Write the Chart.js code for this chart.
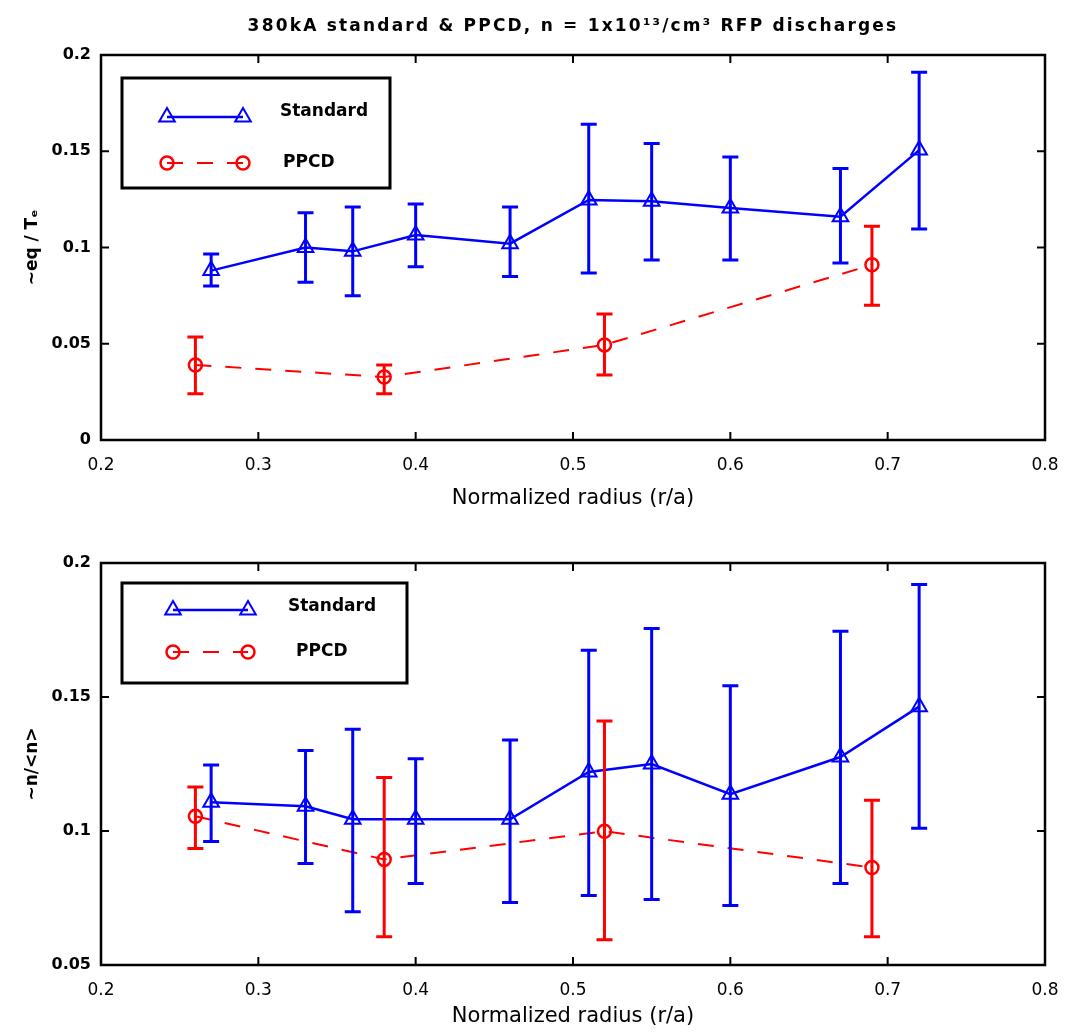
<!DOCTYPE html>
<html><head><meta charset="utf-8">
<script src="https://cdn.jsdelivr.net/npm/chart.js@4/dist/chart.umd.min.js"></script>
<style>
html,body{margin:0;padding:0;background:#fff;width:1066px;height:1033px;overflow:hidden}
.box{position:absolute;left:0;width:1066px}
</style></head><body>
<div class="box" style="top:0;height:515px"><canvas id="c1"></canvas></div>
<div class="box" style="top:515px;height:518px"><canvas id="c2"></canvas></div>
<script>
// ---------- data ----------
const stdX  = [0.27, 0.33, 0.36, 0.40, 0.46, 0.51, 0.55, 0.60, 0.67, 0.72];
const ppcdX = [0.26, 0.38, 0.52, 0.69];

const topStdY  = [0.088, 0.100, 0.098, 0.1065, 0.102, 0.1247, 0.124, 0.1205, 0.116, 0.1506];
const topStdLo = [0.080, 0.082, 0.075, 0.090, 0.085, 0.0867, 0.0935, 0.0935, 0.092, 0.1096];
const topStdHi = [0.0966, 0.118, 0.121, 0.1226, 0.121, 0.164, 0.154, 0.147, 0.141, 0.191];
const topPpcdY  = [0.039, 0.0327, 0.0494, 0.091];
const topPpcdLo = [0.024, 0.024, 0.0338, 0.070];
const topPpcdHi = [0.0535, 0.039, 0.0654, 0.111];

const botStdY  = [0.1107, 0.1092, 0.1044, 0.1044, 0.1044, 0.122, 0.125, 0.1137, 0.1276, 0.1464];
const botStdLo = [0.0961, 0.0879, 0.0699, 0.0804, 0.0733, 0.0759, 0.0744, 0.0722, 0.0804, 0.101];
const botStdHi = [0.1246, 0.130, 0.138, 0.127, 0.134, 0.1674, 0.1756, 0.1542, 0.1745, 0.192];
const botPpcdY  = [0.1055, 0.0894, 0.0999, 0.0864];
const botPpcdLo = [0.0935, 0.0605, 0.0594, 0.0605];
const botPpcdHi = [0.1164, 0.120, 0.141, 0.1115];

const xTickLabels = ['0.2','0.3','0.4','0.5','0.6','0.7','0.8'];
const topYTickLabels = ['0','0.05','0.1','0.15','0.2'];
const botYTickLabels = ['0.05','0.1','0.15','0.2'];
const seriesNames = ['Standard','PPCD'];
const chartTitle = '380kA standard & PPCD, n = 1x10\u00B9\u00B3/cm\u00B3 RFP discharges';
const xTitle = 'Normalized radius (r/a)';
const topYTitle = '~eq / T\u2091';
const botYTitle = '~n/<n>';

const BLUE = '#0000ff', RED = '#ff0000';
const FONT = 'DejaVu Sans';

// ---------- plugins ----------
const errorBars = {
  id: 'errorBars',
  afterDatasetsDraw(chart) {
    const ctx = chart.ctx, ys = chart.scales.y;
    chart.data.datasets.forEach((ds, di) => {
      const meta = chart.getDatasetMeta(di);
      ctx.save();
      ctx.strokeStyle = ds.borderColor; ctx.lineWidth = 3; ctx.setLineDash([]);
      meta.data.forEach((pt, i) => {
        const x = pt.x, y1 = ys.getPixelForValue(ds.errLo[i]), y2 = ys.getPixelForValue(ds.errHi[i]);
        ctx.beginPath();
        ctx.moveTo(x, y1); ctx.lineTo(x, y2);
        ctx.moveTo(x - 8, y1); ctx.lineTo(x + 8, y1);
        ctx.moveTo(x - 8, y2); ctx.lineTo(x + 8, y2);
        ctx.stroke();
      });
      ctx.restore();
    });
  }
};

const frame = {
  id: 'frame',
  afterDraw(chart) {
    const {ctx, chartArea: a, scales} = chart;
    ctx.save();
    ctx.strokeStyle = '#000'; ctx.lineWidth = 2.5; ctx.setLineDash([]);
    ctx.strokeRect(a.left, a.top, a.right - a.left, a.bottom - a.top);
    const L = 8;
    ctx.lineWidth = 2;
    ctx.beginPath();
    scales.x.ticks.forEach(t => {
      const x = scales.x.getPixelForValue(t.value);
      ctx.moveTo(x, a.bottom); ctx.lineTo(x, a.bottom - L);
      ctx.moveTo(x, a.top); ctx.lineTo(x, a.top + L);
    });
    scales.y.ticks.forEach(t => {
      const y = scales.y.getPixelForValue(t.value);
      ctx.moveTo(a.left, y); ctx.lineTo(a.left + L, y);
      ctx.moveTo(a.right, y); ctx.lineTo(a.right - L, y);
    });
    ctx.stroke();
    ctx.restore();
  }
};

const topTitle = {
  id: 'topTitle',
  afterDraw(chart, args, opts) {
    if (!opts.text) return;
    const {ctx, chartArea: a} = chart;
    ctx.save();
    ctx.fillStyle = '#000';
    ctx.font = '600 17px "' + FONT + '"';
    ctx.textAlign = 'center'; ctx.textBaseline = 'middle';
    try { ctx.letterSpacing = '2.2px'; } catch(e) {}
    ctx.fillText(opts.text, (a.left + a.right) / 2, 27);
    ctx.restore();
  }
};

const matLegend = {
  id: 'matLegend',
  afterDraw(chart, args, o) {
    const ctx = chart.ctx, H = Chart.helpers;
    ctx.save();
    ctx.fillStyle = '#fff';
    ctx.fillRect(o.box[0], o.box[1], o.box[2] - o.box[0], o.box[3] - o.box[1]);
    ctx.strokeStyle = '#000'; ctx.lineWidth = 3;
    ctx.strokeRect(o.box[0], o.box[1], o.box[2] - o.box[0], o.box[3] - o.box[1]);
    chart.data.datasets.forEach((ds, i) => {
      const r = o.rows[i];
      ctx.strokeStyle = ds.borderColor; ctx.lineWidth = ds.borderWidth;
      ctx.setLineDash(ds.borderDash || []);
      ctx.beginPath(); ctx.moveTo(r.x1, r.y); ctx.lineTo(r.x2, r.y); ctx.stroke();
      ctx.setLineDash([]);
      ctx.lineWidth = ds.pointBorderWidth;
      [r.x1, r.x2].forEach(x => {
        ctx.fillStyle = 'rgba(0,0,0,0)';
        H.drawPoint(ctx, {pointStyle: ds.pointStyle, radius: ds.pointRadius, rotation: 0, borderWidth: ds.pointBorderWidth}, x, r.y);
      });
      ctx.fillStyle = '#000';
      ctx.font = 'bold 17px "' + FONT + '"';
      ctx.textAlign = 'left'; ctx.textBaseline = 'middle';
      ctx.fillText(ds.label, r.tx, r.ty);
    });
    ctx.restore();
  }
};

function makeChart(id, stdY, stdLo, stdHi, pY, pLo, pHi, yMin, yTicks, yTitle, padTop, xH, legend, title) {
  const std = stdX.map((x, i) => ({x, y: stdY[i]}));
  const pp = ppcdX.map((x, i) => ({x, y: pY[i]}));
  return new Chart(document.getElementById(id), {
    type: 'line',
    data: {
      datasets: [
        {label: seriesNames[0], data: std, errLo: stdLo, errHi: stdHi,
         borderColor: BLUE, borderWidth: 2.5, pointStyle: 'triangle', pointRadius: 9,
         pointBorderWidth: 2, pointBorderColor: BLUE, pointBackgroundColor: 'rgba(0,0,0,0)', tension: 0},
        {label: seriesNames[1], data: pp, errLo: pLo, errHi: pHi,
         borderColor: RED, borderWidth: 2, borderDash: [16, 14], pointStyle: 'circle', pointRadius: 6.5,
         pointBorderWidth: 2.5, pointBorderColor: RED, pointBackgroundColor: 'rgba(0,0,0,0)', tension: 0}
      ]
    },
    options: {
      responsive: true, maintainAspectRatio: false, animation: false,
      layout: {padding: {top: padTop, right: 21, left: 0, bottom: 0}},
      plugins: {legend: {display: false}, tooltip: {enabled: false},
        matLegend: legend, topTitle: {text: title}},
      scales: {
        x: {type: 'linear', min: 0.2, max: 0.8,
            ticks: {stepSize: 0.1, color: '#000', font: {family: FONT, size: 17}, padding: 7,
                    callback: (v, i) => xTickLabels[i]},
            grid: {display: false}, border: {display: false},
            title: {display: true, text: xTitle, color: '#000', font: {family: FONT, size: 21}, padding: {top: 2}},
            afterFit: s => { s.height = xH; }},
        y: {type: 'linear', min: yMin, max: 0.2,
            ticks: {stepSize: 0.05, color: '#000', font: {family: FONT, size: 16, weight: 'bold'}, padding: 2,
                    callback: (v, i) => yTicks[i]},
            grid: {display: false}, border: {display: false},
            title: {display: true, text: yTitle, color: '#000', font: {family: FONT, size: 17, weight: 'bold'}, padding: {top: 22, bottom: 0}},
            afterFit: s => { s.width = 101; }}
      }
    },
    plugins: [errorBars, frame, topTitle, matLegend]
  });
}

makeChart('c1', topStdY, topStdLo, topStdHi, topPpcdY, topPpcdLo, topPpcdHi, 0, topYTickLabels, topYTitle, 55, 75,
  {box: [122, 78, 390, 188], rows: [{y: 117, ty: 112, x1: 167, x2: 243, tx: 280}, {y: 163, ty: 163, x1: 167, x2: 243, tx: 283}]},
  chartTitle);
makeChart('c2', botStdY, botStdLo, botStdHi, botPpcdY, botPpcdLo, botPpcdHi, 0.05, botYTickLabels, botYTitle, 48, 68,
  {box: [122, 68, 407, 168], rows: [{y: 95, ty: 92, x1: 173, x2: 248, tx: 288}, {y: 137, ty: 137, x1: 173, x2: 248, tx: 296}]},
  '');
</script>
</body></html>
